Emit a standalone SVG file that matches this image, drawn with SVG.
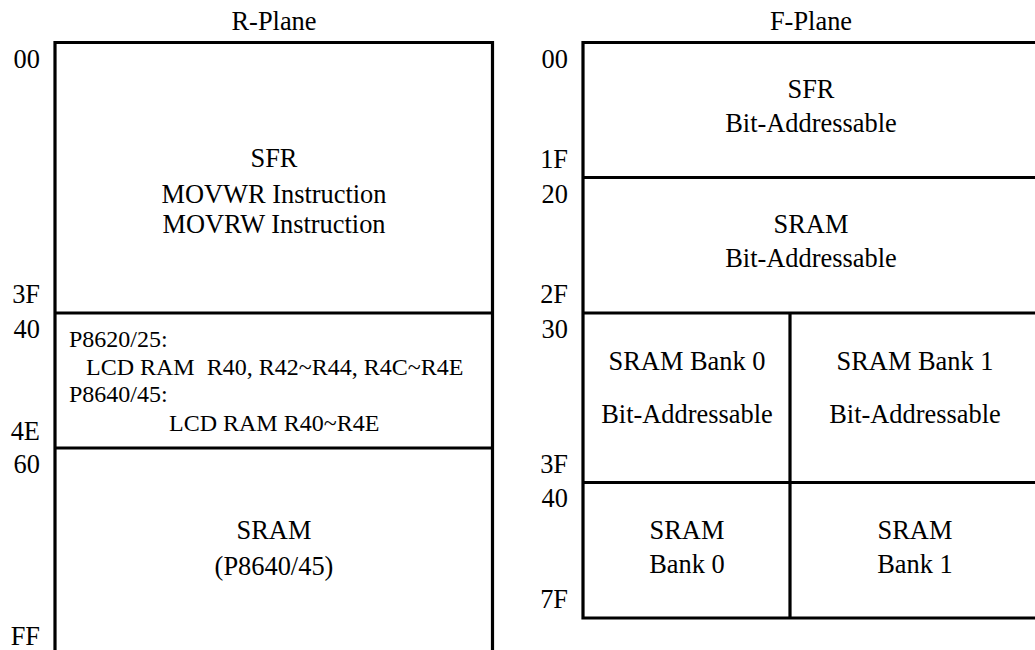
<svg xmlns="http://www.w3.org/2000/svg" width="1035" height="650" viewBox="0 0 1035 650">
<style>
text{font-family:"Liberation Serif","Times New Roman",serif;fill:#000;font-size:26.4px}
.m{text-anchor:middle}
.a{text-anchor:end}
.s{font-size:24px}
.ln{stroke:#000;stroke-width:3.2;fill:none}
</style>
<rect width="1035" height="650" fill="#fff"/>
<text class="m" x="274" y="30">R-Plane</text>
<text class="m" x="811" y="30">F-Plane</text>
<g id="r-addr">
<text class="a" x="40" y="68">00</text>
<text class="a" x="40" y="303">3F</text>
<text class="a" x="40" y="338">40</text>
<text class="a" x="40" y="440">4E</text>
<text class="a" x="40" y="473">60</text>
<text class="a" x="40" y="645">FF</text>
</g>
<g id="f-addr">
<text class="a" x="568" y="68">00</text>
<text class="a" x="568" y="168">1F</text>
<text class="a" x="568" y="203">20</text>
<text class="a" x="568" y="303">2F</text>
<text class="a" x="568" y="338">30</text>
<text class="a" x="568" y="473">3F</text>
<text class="a" x="568" y="507">40</text>
<text class="a" x="568" y="608">7F</text>
</g>
<g id="r-sfr">
<path class="ln" d="M55,652 V42.5 H492.5 V652"/>
<text class="m" x="274" y="167">SFR</text>
<text class="m" x="274" y="203">MOVWR Instruction</text>
<text class="m" x="274" y="233">MOVRW Instruction</text>
</g>
<g id="r-lcd">
<path class="ln" d="M55,313 H492.5"/>
<text class="s" x="69" y="347">P8620/25:</text>
<text class="s" x="86" y="375" xml:space="preserve">LCD RAM  R40, R42~R44, R4C~R4E</text>
<text class="s" x="69" y="402">P8640/45:</text>
<text class="s" x="169" y="431">LCD RAM R40~R4E</text>
</g>
<g id="r-sram">
<path class="ln" d="M55,448 H492.5"/>
<text class="m" x="274" y="539">SRAM</text>
<text class="m" x="274" y="575">(P8640/45)</text>
</g>
<g id="f-sfr">
<path class="ln" d="M1037,42.5 H583 V618 H1037"/>
<text class="m" x="811" y="98">SFR</text>
<text class="m" x="811" y="132">Bit-Addressable</text>
</g>
<g id="f-sram">
<path class="ln" d="M583,177.5 H1037"/>
<text class="m" x="811" y="233">SRAM</text>
<text class="m" x="811" y="267">Bit-Addressable</text>
</g>
<g id="f-bank0-bit">
<path class="ln" d="M583,313 H1037 M790,313 V618"/>
<text class="m" x="687" y="370">SRAM Bank 0</text>
<text class="m" x="687" y="423">Bit-Addressable</text>
</g>
<g id="f-bank1-bit">
<text class="m" x="915" y="370">SRAM Bank 1</text>
<text class="m" x="915" y="423">Bit-Addressable</text>
</g>
<g id="f-bank0">
<path class="ln" d="M583,482.5 H1037"/>
<text class="m" x="687" y="539">SRAM</text>
<text class="m" x="687" y="573">Bank 0</text>
</g>
<g id="f-bank1">
<text class="m" x="915" y="539">SRAM</text>
<text class="m" x="915" y="573">Bank 1</text>
</g>
<g id="connectors"/>
</svg>
